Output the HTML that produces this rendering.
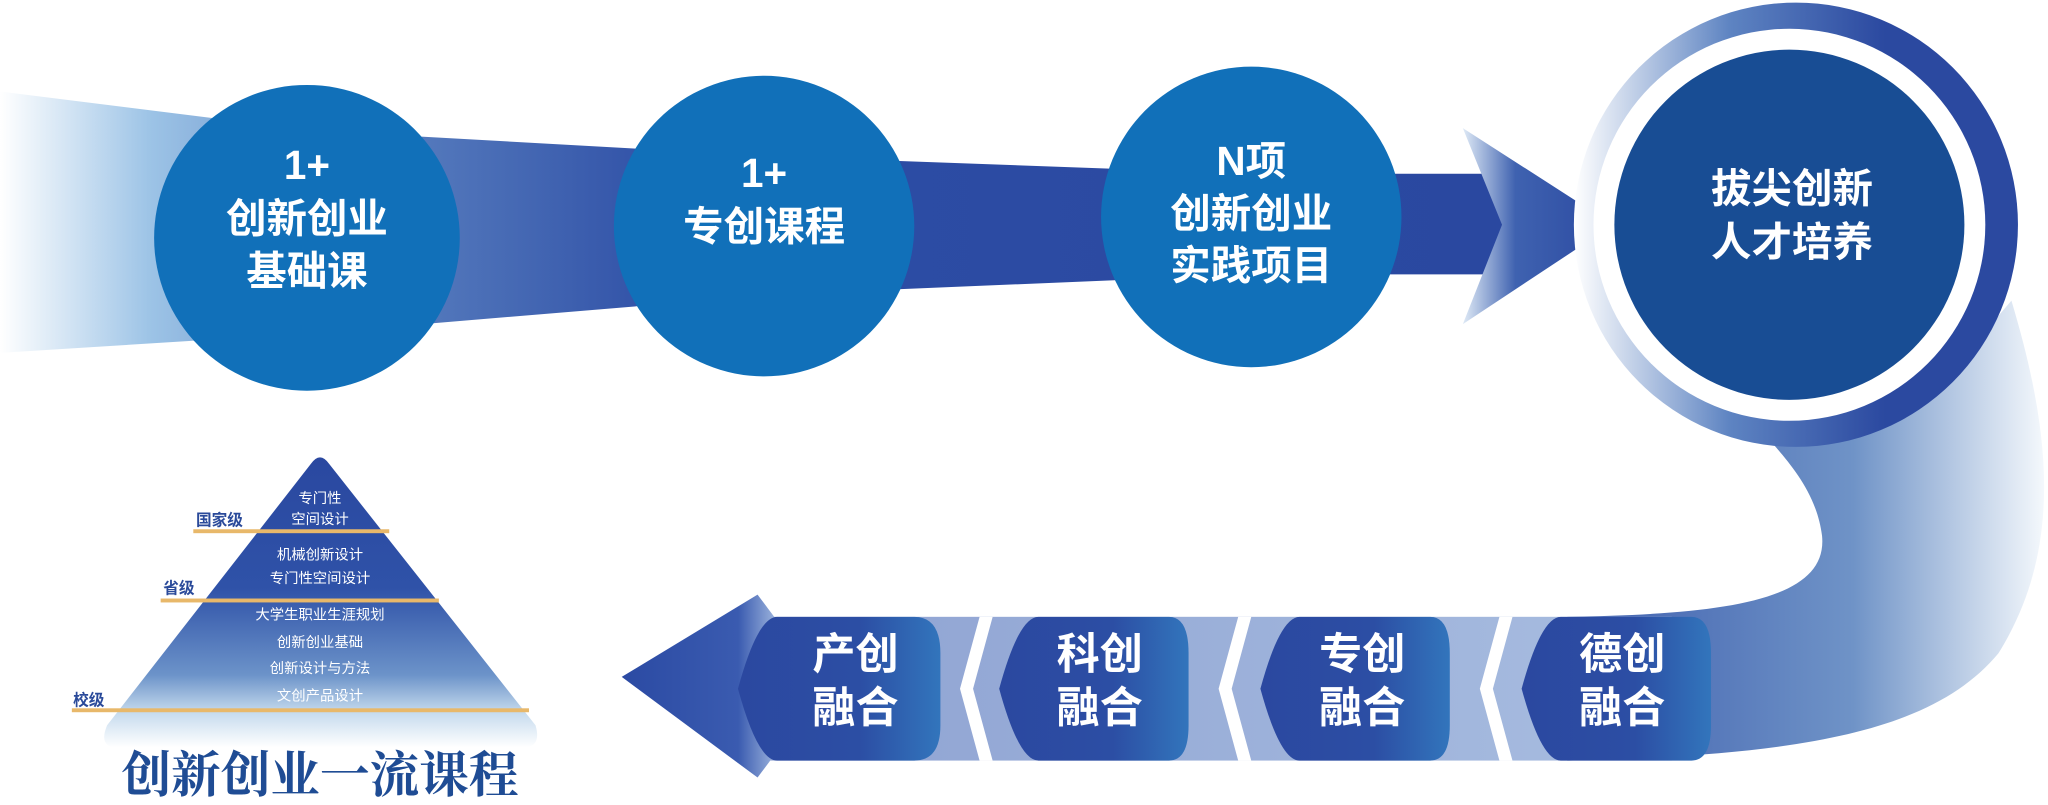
<!DOCTYPE html>
<html><head><meta charset="utf-8"><style>
html,body{margin:0;padding:0;background:#fff;width:2048px;height:805px;overflow:hidden}
svg{display:block}
text{font-family:"Liberation Sans","Noto Sans CJK SC",sans-serif;font-weight:bold;fill:#fff;text-anchor:middle}
</style></head><body>
<svg width="2048" height="805" viewBox="0 0 1568 616" preserveAspectRatio="none">
<defs>
<linearGradient id="band" x1="0" x2="1" y1="0" y2="0">
<stop offset="0" stop-color="#fff"/><stop offset="0.1" stop-color="#9cc3e6"/><stop offset="0.25" stop-color="#5a80c0"/><stop offset="0.45" stop-color="#2d4da5"/><stop offset="1" stop-color="#2a48a0"/></linearGradient>
<linearGradient id="arrowHead" x1="0" x2="1"><stop offset="0" stop-color="#dfeaf6"/><stop offset="0.35" stop-color="#3f62b0"/><stop offset="1" stop-color="#2a48a0"/></linearGradient>
<linearGradient id="ring" x1="0" x2="1"><stop offset="0" stop-color="#fff"/><stop offset="0.35" stop-color="#5e84c2"/><stop offset="0.7" stop-color="#2b49a0"/><stop offset="1" stop-color="#2b49a0"/></linearGradient>
<linearGradient id="curve" x1="0" x2="1"><stop offset="0" stop-color="#3f5fae"/><stop offset="0.6" stop-color="#6f93c7"/><stop offset="1" stop-color="#f4f8fc"/></linearGradient>
<linearGradient id="bot" x1="0" x2="1"><stop offset="0" stop-color="#8ea2d2"/><stop offset="1" stop-color="#a8bde0"/></linearGradient>
<linearGradient id="pill" x1="0" x2="1"><stop offset="0" stop-color="#2b48a0"/><stop offset="0.6" stop-color="#2c4ea4"/><stop offset="1" stop-color="#3275bc"/></linearGradient>
<linearGradient id="lhead" x1="0" x2="1"><stop offset="0" stop-color="#2b4aa3"/><stop offset="0.75" stop-color="#3a5bb0"/><stop offset="1" stop-color="#9fb6de"/></linearGradient>
<linearGradient id="pyr" x1="0" x2="0" y1="0" y2="1"><stop offset="0" stop-color="#2a48a0"/><stop offset="0.45" stop-color="#2f52a8"/><stop offset="0.75" stop-color="#6c93c9"/><stop offset="0.88" stop-color="#c6dbee"/><stop offset="1" stop-color="#fff"/></linearGradient>
</defs>
<path d="M0,70 L240,100 L600,120 L960,133 L1160,133 L1160,210 L960,210 L600,225 L240,255 L0,270 Z" fill="url(#band)"/>
<path d="M1120,98 L1235,172 L1120,248 L1150,172 Z" fill="url(#arrowHead)"/>
<path d="M1540,230 C1570,330 1580,420 1530,500 C1480,560 1380,578 1200,582 L1200,472 C1320,470 1400,460 1395,410 C1390,370 1360,345 1350,330 L1480,300 Z" fill="url(#curve)"/>
<rect x="580" y="472" width="700" height="110" fill="url(#bot)"/>
<path d="M476,518 L580,455 L595,475 L595,575 L580,595 Z" fill="url(#lhead)"/>
<path d="M750,472 L735,527 L750,582 L760,582 L745,527 L760,472Z" fill="#fff"/>
<path d="M948,472 L933,527 L948,582 L958,582 L943,527 L958,472Z" fill="#fff"/>
<path d="M1148,472 L1133,527 L1148,582 L1158,582 L1143,527 L1158,472Z" fill="#fff"/>
<g fill="url(#pill)">
<path d="M595,472 L700,472 Q720,472 720,500 L720,555 Q720,582 700,582 L595,582 Q580,582 565,527 Q580,472 595,472Z"/>
<path d="M795,472 L895,472 Q910,472 910,500 L910,555 Q910,582 895,582 L795,582 Q780,582 765,527 Q780,472 795,472Z"/>
<path d="M995,472 L1095,472 Q1110,472 1110,500 L1110,555 Q1110,582 1095,582 L995,582 Q980,582 965,527 Q980,472 995,472Z"/>
<path d="M1195,472 L1295,472 Q1310,472 1310,500 L1310,555 Q1310,582 1295,582 L1195,582 Q1180,582 1165,527 Q1180,472 1195,472Z"/>
</g>
<circle cx="235" cy="182" r="117" fill="#1170b9"/>
<circle cx="585" cy="173" r="115" fill="#1170b9"/>
<circle cx="958" cy="166" r="115" fill="#1170b9"/>
<circle cx="1375" cy="172" r="170" fill="url(#ring)"/>
<circle cx="1370" cy="172" r="150" fill="#fff"/>
<circle cx="1370" cy="172" r="134" fill="#184d94"/>
<g font-size="31">
<text x="235" y="137">1+</text><text x="235" y="178">创新创业</text><text x="235" y="218">基础课</text>
<text x="585" y="143">1+</text><text x="585" y="184">专创课程</text>
<text x="958" y="134">N项</text><text x="958" y="174">创新创业</text><text x="958" y="214">实践项目</text>
<text x="1372" y="155">拔尖创新</text><text x="1372" y="196">人才培养</text>
</g>
<g font-size="33">
<text x="655" y="512">产创</text><text x="655" y="553">融合</text>
<text x="842" y="512">科创</text><text x="842" y="553">融合</text>
<text x="1043" y="512">专创</text><text x="1043" y="553">融合</text>
<text x="1242" y="512">德创</text><text x="1242" y="553">融合</text>
</g>
<path d="M238,355 Q245,345 252,355 L410,555 Q415,572 400,572 L90,572 Q75,572 82,555 Z" fill="url(#pyr)"/>
<g fill="#e8b86a">
<rect x="148" y="405" width="150" height="3"/>
<rect x="123" y="458" width="213" height="3"/>
<rect x="55" y="542" width="350" height="3"/>
</g>
<g font-size="11">
<text x="245" y="385" style="font-weight:normal">专门性</text>
<text x="245" y="401" style="font-weight:normal">空间设计</text>
<text x="245" y="428" style="font-weight:normal">机械创新设计</text>
<text x="245" y="446" style="font-weight:normal">专门性空间设计</text>
<text x="245" y="474" style="font-weight:normal">大学生职业生涯规划</text>
<text x="245" y="495" style="font-weight:normal">创新创业基础</text>
<text x="245" y="515" style="font-weight:normal">创新设计与方法</text>
<text x="245" y="536" style="font-weight:normal">文创产品设计</text>
</g>
<g font-size="12" style="font-family:'Liberation Serif','Noto Serif CJK SC',serif">
<text x="168" y="402" style="fill:#2a4a9a">国家级</text>
<text x="137" y="454" style="fill:#2a4a9a">省级</text>
<text x="68" y="540" style="fill:#2a4a9a">校级</text>
</g>
<text x="245" y="606" font-size="38" style="fill:#1f4c94;font-family:'Liberation Serif','Noto Serif CJK SC',serif">创新创业一流课程</text>
</svg>
</body></html>
